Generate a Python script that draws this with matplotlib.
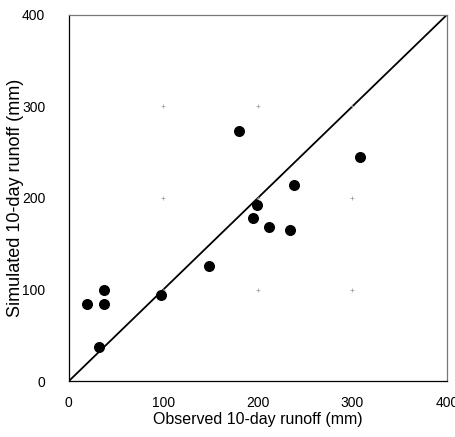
import matplotlib
matplotlib.use('Agg')
import matplotlib.pyplot as plt

plt.rcParams['font.family'] = ['Liberation Sans', 'DejaVu Sans']

# observed vs simulated 10-day runoff (mm)
observed = [19, 37, 37, 32, 98, 148, 180, 199, 195, 212, 234, 238, 308]
simulated = [84, 100, 84, 37, 94, 126, 273, 192, 178, 168, 165, 214, 245]
ticks = [0, 100, 200, 300, 400]

fig = plt.figure(figsize=(4.56, 4.37), dpi=100)
ax = fig.add_axes([0.151, 0.128, 0.829, 0.838])

ax.plot([0, 400], [0, 400], color='black', lw=1.3)
ax.scatter(observed, simulated, s=48, color='black', zorder=3)

# faint grid marks left over in the original
for gx in ticks[1:-1]:
    for gy in ticks[1:-1]:
        ax.plot(gx, gy, marker='+', ms=3, mew=0.5, color='#999999')

ax.set_xlim(0, 400)
ax.set_ylim(0, 400)
ax.set_xticks(ticks)
ax.set_yticks(ticks)
ax.tick_params(length=0, labelsize=10)
ax.tick_params(axis='y', pad=17)
ax.tick_params(axis='x', pad=11)
for side in ['top', 'right']:
    ax.spines[side].set_color('#777777')
for sp in ax.spines.values():
    sp.set_linewidth(0.9)

ax.set_xlabel('Observed 10-day runoff (mm)', fontsize=11.5)
ax.set_ylabel('Simulated 10-day runoff (mm)', fontsize=13)
ax.xaxis.set_label_coords(0.5, -0.085)
ax.yaxis.set_label_coords(-0.119, 0.5)

fig.savefig('out.png', dpi=100)
